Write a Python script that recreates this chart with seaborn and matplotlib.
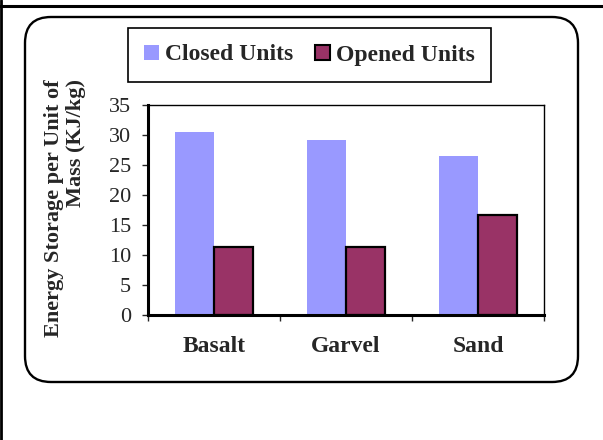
import matplotlib
matplotlib.use("Agg")
import matplotlib.pyplot as plt
from matplotlib.patches import FancyBboxPatch, Patch
from matplotlib.lines import Line2D
import seaborn as sns
import pandas as pd

materials = ["Basalt", "Garvel", "Sand"]
closed_units = [30.5, 29.2, 26.5]
opened_units = [11.4, 11.4, 16.7]
series_names = ["Closed Units", "Opened Units"]
colors = ["#9999FF", "#993366"]

df = pd.DataFrame({
    "material": materials * 2,
    "energy": closed_units + opened_units,
    "series": [series_names[0]] * 3 + [series_names[1]] * 3,
})

sns.set_style("white")
plt.rcParams["font.family"] = ["Liberation Serif", "DejaVu Serif"]

W, H = 603, 440
fig = plt.figure(figsize=(W / 100, H / 100), dpi=100)

# outer frame (top and left only) and rounded chart area
fig.add_artist(Line2D([0, 1], [1 - 6.5 / H, 1 - 6.5 / H], color="black", lw=2.2, transform=fig.transFigure))
fig.add_artist(Line2D([1.3 / W, 1.3 / W], [0, 1], color="black", lw=2.0, transform=fig.transFigure))
box = FancyBboxPatch((25, H - 382), 553, 365, boxstyle="round,pad=0,rounding_size=26",
                     transform=None, facecolor="white", edgecolor="black", lw=1.7, zorder=0)
fig.add_artist(box)

ax = fig.add_axes([148 / W, (H - 315) / H, 396 / W, 210 / H])
sns.barplot(data=df, x="material", y="energy", hue="series", palette=colors,
            width=0.59, gap=0, saturation=1, ax=ax, legend=False)

for bar in ax.containers[1]:
    bar.set_edgecolor("black")
    bar.set_linewidth(1.6)
for bar in ax.containers[0]:
    bar.set_linewidth(0)

ax.set_xlim(-0.5, 2.5)
ax.set_ylim(0, 35)
ax.set_yticks(range(0, 36, 5))
ax.tick_params(axis="y", labelsize=16, length=4.3, width=1, direction="out", pad=8, left=True)
ax.set_xticks([-0.5, 0.5, 1.5, 2.5], minor=True)
ax.tick_params(axis="x", which="minor", length=4, width=1, direction="out", bottom=True)
ax.tick_params(axis="x", which="major", length=0, pad=15)
ax.set_xticks(range(3))
ax.set_xticklabels(materials, fontsize=17, fontweight="bold")

for side in ["top", "right"]:
    ax.spines[side].set_linewidth(1)
    ax.spines[side].set_color("black")
for side in ["left", "bottom"]:
    ax.spines[side].set_linewidth(2.2)
    ax.spines[side].set_color("black")

ax.set_xlabel("")
ax.set_ylabel("Energy Storage per Unit of\nMass (KJ/kg)", fontsize=16, fontweight="bold",
              multialignment="right", linespacing=1.1)
ax.yaxis.set_label_coords((86 - 148) / 396, (315 - 208) / 210)

handles = [Patch(facecolor=colors[0], edgecolor="none"),
           Patch(facecolor=colors[1], edgecolor="black", linewidth=1.5)]
leg = fig.legend(handles, series_names, loc="center",
                 bbox_to_anchor=((131 + 488) / 2 / W, 1 - 55 / H), ncol=2,
                 frameon=True, fancybox=False, edgecolor="black", framealpha=1,
                 prop={"weight": "bold", "size": 17}, handlelength=0.6, handleheight=0.6,
                 handletextpad=0.26, columnspacing=0.95, borderpad=0.7, borderaxespad=0)
leg.get_frame().set_linewidth(1.2)

fig.savefig("out.png", dpi=100)
